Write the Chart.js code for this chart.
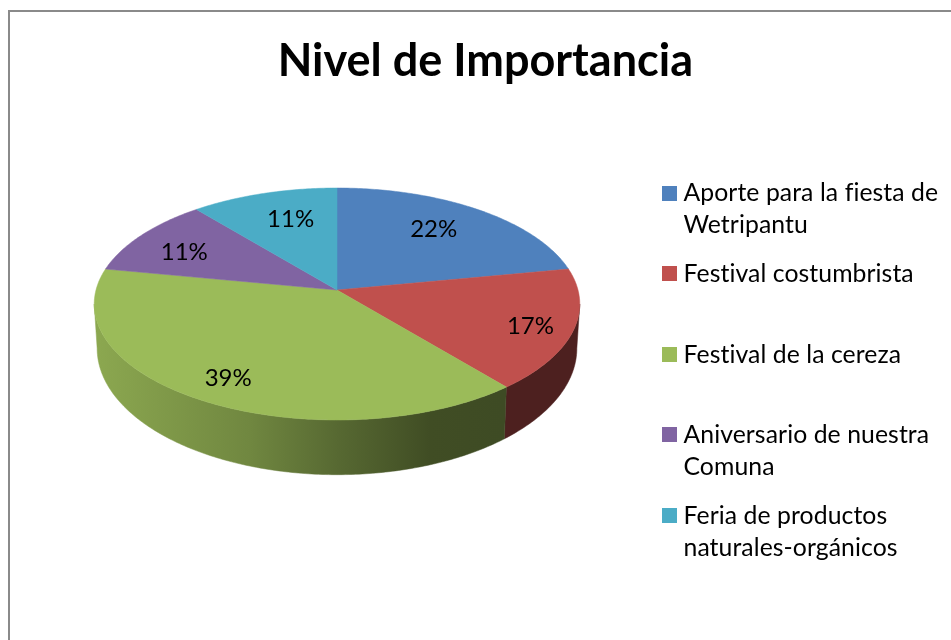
<!DOCTYPE html>
<html><head><meta charset="utf-8">
<style>html,body{margin:0;padding:0;background:#fff;overflow:hidden;width:951px;height:640px;position:relative}canvas{display:block;position:absolute;left:-19px;top:0}</style>
<script src="https://cdn.jsdelivr.net/npm/chart.js@4"></script>
</head><body>
<canvas id="c" width="970" height="640"></canvas>
<script>
const titleText = "Nivel de Importancia";
const categories = ["Aporte para la fiesta de Wetripantu","Festival costumbrista","Festival de la cereza","Aniversario de nuestra Comuna","Feria de productos naturales-orgánicos"];
const legendLines = [["Aporte para la fiesta de","Wetripantu"],["Festival costumbrista"],["Festival de la cereza"],["Aniversario de nuestra","Comuna"],["Feria de productos","naturales-orgánicos"]];
const values = [22,17,39,11,11];
const colors = ["#4F81BD","#C0504D","#9BBB59","#8064A2","#4BACC6"];
const FONT = "Lato, Carlito, sans-serif";
const SHIFT = 19;                            // canvas sits this far left of the page edge

const P = 0.1207, YS = 114.3/241;            // perspective strength, vertical squash
const project = (el, ang, f, low) => {
  const t = ang + Math.PI/2, u = Math.sin(t)*f, v = -Math.cos(t)*f, w = 1 - P*v, R = el.outerRadius;
  if (low) return [el.x + 0.988*R*u/w, el.y + 43 + 1.09*YS*R*v/w];
  return [el.x + R*u/w, el.y + YS*R*v/w];
};
const rgb = h => [1,3,5].map(i => parseInt(h.substr(i,2),16));
const shade = (h,k) => 'rgb(' + rgb(h).map(c => Math.round(c*k)).join(',') + ')';
const wallStops = [[94,.90],[250,.72],[337,.56],[430,.41],[505,.40],[580,.40]];
const labelNudge = [[-11,1],[18,6],[-9,8],[-4,4],[10,4]];
const EXT = Math.acos(-P);                   // clock angle of the rim's widest point

const pie3d = {
  id:'pie3d',
  beforeDraw(chart){
    const c = chart.ctx; c.save();
    c.fillStyle='#fff'; c.fillRect(0,0,chart.width,chart.height);
    c.strokeStyle='#8a8a8a'; c.lineWidth=2; c.beginPath();
    c.moveTo(9+SHIFT,640); c.lineTo(9+SHIFT,11); c.lineTo(chart.width,11); c.stroke(); c.restore();
  },
  beforeDatasetDraw(chart,args){
    const c = chart.ctx, arcs = chart.getDatasetMeta(args.index).data;
    const sample = (a0,a1,el,low)=>{ const pts=[], n=Math.max(8,Math.ceil((a1-a0)*80));
      for(let i=0;i<=n;i++) pts.push(project(el, a0+(a1-a0)*i/n, 1, low));
      return pts; };
    c.save();
    const front0 = EXT - Math.PI/2, front1 = 2*Math.PI - EXT - Math.PI/2;
    arcs.forEach(el=>{
      const a0=Math.max(el.startAngle,front0), a1=Math.min(el.endAngle,front1);
      if(a1<=a0) return;
      const pts=sample(a0,a1,el,false).concat(sample(a0,a1,el,true).reverse());
      const g=c.createLinearGradient(94+SHIFT,0,580+SHIFT,0), base=el.options.backgroundColor;
      wallStops.forEach(([x,k])=>g.addColorStop((x-94)/486, shade(base,k)));
      c.fillStyle=g; c.strokeStyle=g; c.lineWidth=.5; c.beginPath();
      pts.forEach((p,i)=> i?c.lineTo(p[0],p[1]):c.moveTo(p[0],p[1]));
      c.closePath(); c.fill(); c.stroke();
    });
    arcs.forEach(el=>{
      const top=sample(el.startAngle,el.endAngle,el,false);
      c.fillStyle=el.options.backgroundColor; c.beginPath(); c.moveTo(el.x,el.y);
      top.forEach(p=>c.lineTo(p[0],p[1])); c.closePath(); c.fill();
      c.strokeStyle=el.options.backgroundColor; c.lineWidth=.5; c.stroke();
    });
    const total=values.reduce((a,b)=>a+b,0);
    c.fillStyle='#000'; c.font='24px '+FONT; c.textAlign='center'; c.textBaseline='middle';
    arcs.forEach((el,i)=>{
      const p=project(el,(el.startAngle+el.endAngle)/2,.75,false);
      c.fillText(Math.round(values[i]/total*100)+'%', p[0]+labelNudge[i][0], p[1]+labelNudge[i][1]);
    });
    c.restore();
    return false;
  },
  afterDraw(chart){
    const c = chart.ctx; c.save();
    c.font='24.75px '+FONT; c.textAlign='left'; c.textBaseline='middle'; c.letterSpacing='0.08px';
    const legendX=662+SHIFT, legendTop=193.5, rowStep=80.6, lineStep=32;
    legendLines.forEach((lines,i)=>{
      const y=legendTop+rowStep*i;
      c.fillStyle=colors[i]; c.fillRect(legendX,Math.round(y-8),15,15);
      c.fillStyle='#000';
      lines.forEach((t,j)=>c.fillText(t,legendX+21.5,y+lineStep*j));
    });
    c.restore();
  }
};

new Chart(document.getElementById('c'),{
  type:'pie',
  data:{labels:categories,datasets:[{data:values,backgroundColor:colors,borderWidth:0}]},
  options:{
    responsive:false,animation:false,radius:241,
    layout:{padding:{left:0,right:258,top:0,bottom:148}},
    plugins:{
      tooltip:{enabled:false},
      legend:{display:false},
      title:{display:true,align:'end',text:titleText,color:'#000',font:{family:FONT,size:45,weight:'bold',lineHeight:1.2},padding:{top:34,bottom:0}}
    }
  },
  plugins:[pie3d]
});
</script>
</body></html>
